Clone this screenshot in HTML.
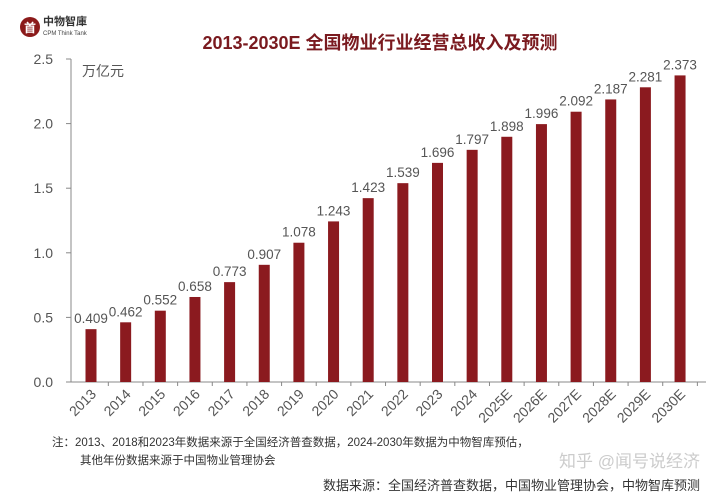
<!DOCTYPE html>
<html><head><meta charset="utf-8">
<style>
body{margin:0;background:#fff;}
svg text{font-family:"Liberation Sans","Noto Sans CJK SC",sans-serif;}
</style></head>
<body>
<svg width="720" height="498" viewBox="0 0 720 498">
<g>
<circle cx="30" cy="27" r="10" fill="#8b1a1a"/>
<text x="30" y="32" font-size="12" fill="#fff" text-anchor="middle" font-weight="bold">首</text>
<text x="43" y="25" font-size="11" font-weight="bold" fill="#333">中物智庫</text>
<text x="43" y="35" font-size="6" fill="#444" font-family="Liberation Serif">CPM Think Tank</text>
</g>
<text x="380" y="49" font-size="18" font-weight="bold" fill="#7a1a1f" text-anchor="middle">2013-2030E 全国物业行业经营总收入及预测</text>
<text x="82" y="76" font-size="14" fill="#555">万亿元</text>
<g id="axes"></g>
<g id="bars"></g>
<text font-size="11.5" fill="#333"><tspan x="52" y="446">注：2013、2018和2023年数据来源于全国经济普查数据，2024-2030年数据为中物智库预估，</tspan><tspan x="80" y="464">其他年份数据来源于中国物业管理协会</tspan></text>
<text x="700" y="467" font-size="17" fill="#ccc" text-anchor="end">知乎 @闻号说经济</text>
<text x="700" y="490" font-size="13" fill="#333" text-anchor="end">数据来源：全国经济普查数据，中国物业管理协会，中物智库预测</text>
</svg>
<script>
const categories=["2013","2014","2015","2016","2017","2018","2019","2020","2021","2022","2023","2024","2025E","2026E","2027E","2028E","2029E","2030E"];
const values=[0.409,0.462,0.552,0.658,0.773,0.907,1.078,1.243,1.423,1.539,1.696,1.797,1.898,1.996,2.092,2.187,2.281,2.373];
const valueLabels=["0.409","0.462","0.552","0.658","0.773","0.907","1.078","1.243","1.423","1.539","1.696","1.797","1.898","1.996","2.092","2.187","2.281","2.373"];
const yTicks=[0,0.5,1.0,1.5,2.0,2.5];
const NS="http://www.w3.org/2000/svg";
const y0=382,ppu=129.2,x0=91,step=34.65,bw=11;
const yS=v=>y0-v*ppu, xS=i=>x0+i*step;
function mk(t,a,p){const e=document.createElementNS(NS,t);for(const k in a)e.setAttribute(k,a[k]);p.appendChild(e);return e;}
const ax=document.getElementById('axes'),bg=document.getElementById('bars');
const yl=mk('line',{x1:71,x2:71,y1:yS(2.5),y2:y0,stroke:'#888'},ax);


const xl=mk('line',{x1:71,x2:706,y1:y0,y2:y0,stroke:'#888'},ax);


yTicks.forEach(v=>{
 const tk=mk('line',{x1:66,x2:71,y1:yS(v),y2:yS(v),stroke:'#888'},ax);
 
 
 const t=mk('text',{x:53,y:yS(v)+5,'font-size':14,fill:'#555','text-anchor':'end'},ax);
 t.textContent=v.toFixed(1);
 
 
});
categories.forEach((c,i)=>{
 const x=xS(i);
 const r=mk('rect',{x:x-bw/2,y:yS(values[i]),width:bw,height:values[i]*ppu,fill:'#8b1a1f'},bg);
 
 
 const tk=mk('line',{x1:x+step/2,x2:x+step/2,y1:y0,y2:y0+4,stroke:'#888'},ax);
 
 
 const vl=mk('text',{x:x,y:yS(values[i])-6,'font-size':13.5,fill:'#555','text-anchor':'middle'},bg);
 vl.textContent=valueLabels[i];
 
 
 const xl2=mk('text',{x:x+6,y:y0+13,'font-size':14,fill:'#555','text-anchor':'end',transform:`rotate(-45 ${x+6} ${y0+13})`},ax);
 xl2.textContent=c;
 
 
});
</script>
</body></html>
